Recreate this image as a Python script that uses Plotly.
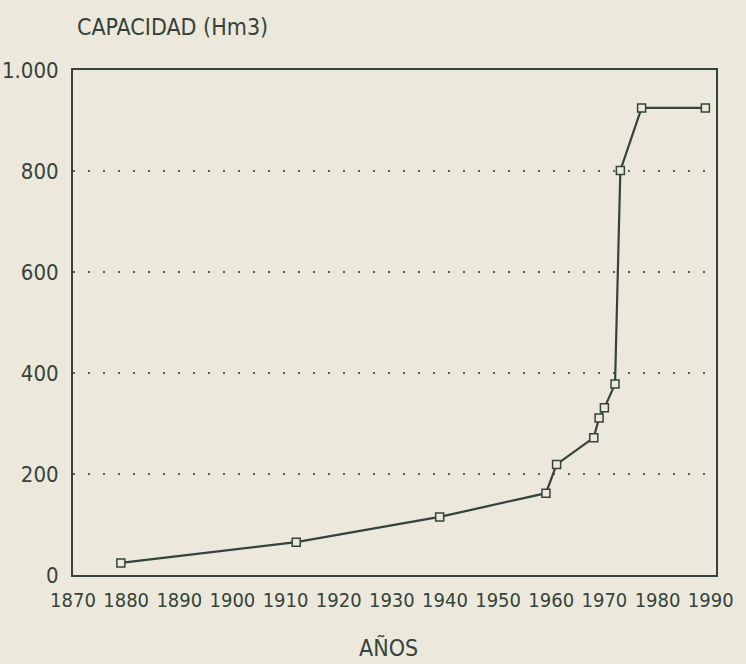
import plotly.graph_objects as go

years = [1879, 1912, 1939, 1959, 1961, 1968, 1969, 1970, 1972, 1973, 1977, 1989]
capacity = [24, 65, 115, 162, 219, 272, 311, 331, 378, 801, 925, 925]

x_ticks = list(range(1870, 1991, 10))
y_ticks = [0, 200, 400, 600, 800, 1000]
y_ticktext = ["0", "200", "400", "600", "800", "1.000"]

ink = "#34443a"
paper = "#ede8dc"
font_family = "DejaVu Sans Condensed, Liberation Sans Narrow, Arial Narrow, sans-serif"

fig = go.Figure()
fig.add_trace(go.Scatter(
    x=years, y=capacity, mode="lines+markers",
    line=dict(color=ink, width=2.2),
    marker=dict(symbol="square", size=8, color=paper, line=dict(color=ink, width=1.5)),
    showlegend=False, hoverinfo="x+y",
))

fig.update_layout(
    width=746, height=664,
    paper_bgcolor=paper, plot_bgcolor=paper,
    margin=dict(l=73, r=30, t=70, b=89),
    font=dict(family=font_family, color=ink),
    xaxis=dict(
        range=[1870, 1991], tickvals=x_ticks, ticktext=[str(v) for v in x_ticks],
        showgrid=False, zeroline=False, showline=True, linecolor=ink, linewidth=2,
        mirror=True, ticks="", tickfont=dict(size=20, color=ink), ticklabelstandoff=6,
        automargin=False,
    ),
    yaxis=dict(
        range=[0, 1000], tickvals=y_ticks, ticktext=y_ticktext,
        showgrid=True, gridcolor="#5a5f58", griddash="2px,13px", gridwidth=1.5,
        zeroline=False, showline=True, linecolor=ink, linewidth=2,
        mirror=True, ticks="", tickfont=dict(size=22, color=ink), ticklabelstandoff=8,
        automargin=False,
    ),
    annotations=[
        dict(text="CAPACIDAD (Hm3)", xref="paper", yref="paper", x=0.003, y=1.0,
             yshift=43, xanchor="left", yanchor="middle", showarrow=False,
             font=dict(size=23, color=ink, family=font_family)),
        dict(text="AÑOS", xref="paper", yref="paper", x=0.491, y=0.0,
             yshift=-72, xanchor="center", yanchor="middle", showarrow=False,
             font=dict(size=23, color=ink, family=font_family)),
    ],
)

fig.write_html(
    "out.html",
    config={"displayModeBar": False},
    post_script="document.body.style.margin='0';document.body.style.overflow='hidden';",
)
